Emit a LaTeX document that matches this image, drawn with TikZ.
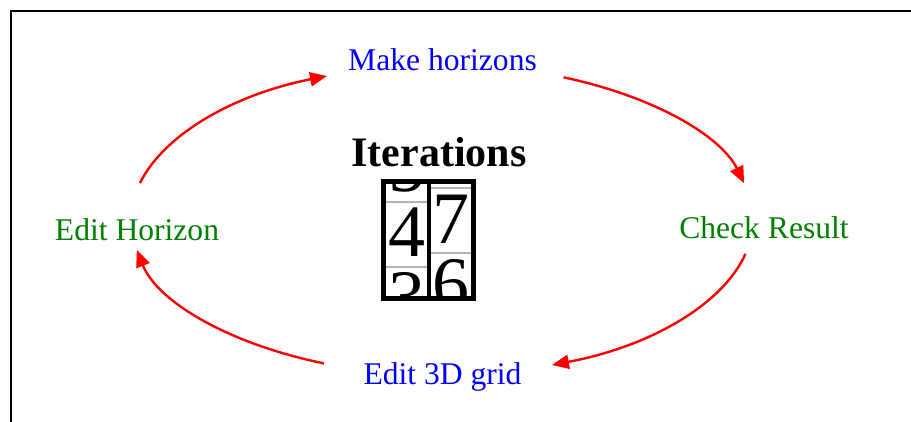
\documentclass[tikz,border=0pt]{standalone}
\usepackage{fontspec}
\setmainfont{Liberation Serif}
\usetikzlibrary{arrows.meta,positioning}
\definecolor{stepgreen}{RGB}{0,128,0}
\tikzset{
  steplabel/.style={inner sep=0pt,anchor=base,font=\fontsize{31.6}{36}\selectfont},
  cyclearrow/.style={-{Triangle[length=17pt,width=14pt]},red,line width=2.4pt},
  counter/.style={inner sep=0pt,anchor=base,font=\fontsize{74}{80}\selectfont},
  wheelline/.style={gray!60,line width=2pt}
}

\begin{document}
\begin{tikzpicture}[x=1pt,y=1pt]
  \useasboundingbox (0,0) rectangle (911,422);
  % frame, runs off the page on the right and bottom
  \draw[line width=2pt] (925,411) -- (11,411) -- (11,-15);

  \node[steplabel,blue] (mh) at (442.5,351) {Make horizons};
  \node[steplabel,stepgreen] (chk) at (764,183) {Check Result};
  \node[steplabel,blue] (grid) at (442.5,37) {Edit 3D grid};
  \node[steplabel,stepgreen] (edh) at (137,181) {Edit Horizon};
  \node[inner sep=0pt,anchor=base,font=\fontsize{42}{48}\selectfont\bfseries] (iter) at (439,255) {Iterations};

  % the counter wheels
  \begin{scope}
    \clip (386,126) rectangle (427,238);
    \draw[wheelline] (386,220.3) -- (427,220.3);
    \draw[wheelline] (386,155.3) -- (427,155.3);
    \foreach \d/\dy in {5/65,4/0,3/-65}
      \node[counter] at (406.5,165+\dy) {\d};
  \end{scope}
  \begin{scope}
    \clip (431,126) rectangle (471,238);
    \draw[wheelline] (431,233.7) -- (471,233.7);
    \draw[wheelline] (431,168.7) -- (471,168.7);
    \foreach \d/\dy in {7/0,6/-65}
      \node[counter] at (451,178+\dy) {\d};
  \end{scope}
  \node[draw,line width=5pt,inner sep=0pt,minimum width=90pt,minimum height=117pt] (odo) at (428.5,182) {};
  \draw[line width=4pt] (odo.north) -- (odo.south);

  % the cycle lies on one ellipse round the counter
  \coordinate (ring) at (442,202);
  \foreach \a/\b in {166.2/111.7, 67/13.7, -12.6/-69.3, 247.7/191.1}
    \draw[cyclearrow] ([shift={(\a:311 and 155)}]ring)
      arc[x radius=311,y radius=155,start angle=\a,end angle=\b];
\end{tikzpicture}
\end{document}
